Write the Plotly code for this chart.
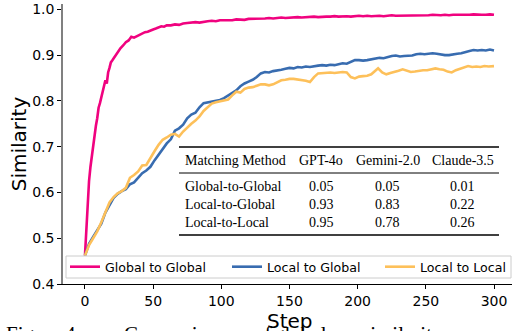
import plotly.graph_objects as go

# ---------------- data ----------------
global_steps = list(range(0, 21)) + list(range(22, 61, 2)) + list(range(63, 301, 3))
global_vals = [
    0.462, 0.520, 0.575, 0.625, 0.655, 0.680, 0.700, 0.722, 0.745, 0.762,
    0.785, 0.795, 0.808, 0.822, 0.832, 0.845, 0.838, 0.862, 0.872, 0.884, 0.888,
    # 22..60 step 2
    0.898, 0.907, 0.915, 0.921, 0.928, 0.932, 0.940, 0.938, 0.941, 0.945,
    0.947, 0.950, 0.951, 0.954, 0.956, 0.958, 0.960, 0.963, 0.962, 0.965,
    # 63..300 step 3
    0.965, 0.967, 0.966, 0.969, 0.970, 0.971, 0.972, 0.971, 0.973, 0.974,
    0.975, 0.974, 0.976, 0.976, 0.977, 0.976, 0.978, 0.978, 0.977, 0.979,
    0.979, 0.980, 0.979, 0.980, 0.981, 0.980, 0.981, 0.982, 0.981, 0.982,
    0.982, 0.983, 0.982, 0.983, 0.983, 0.984, 0.983, 0.984, 0.984, 0.984,
    0.985, 0.984, 0.985, 0.985, 0.984, 0.985, 0.986, 0.985, 0.986, 0.985,
    0.986, 0.986, 0.985, 0.986, 0.987, 0.986, 0.986, 0.987, 0.986, 0.987,
    0.987, 0.986, 0.987, 0.987, 0.988, 0.987, 0.987, 0.988, 0.987, 0.988,
    0.988, 0.987, 0.988, 0.988, 0.989, 0.988, 0.988, 0.988, 0.989, 0.988,
]

l2g_steps = list(range(0, 301, 3))
l2g_vals = [
    0.462, 0.488, 0.503, 0.518, 0.532, 0.556, 0.572, 0.588, 0.597, 0.603,
    0.607, 0.618, 0.622, 0.633, 0.642, 0.648, 0.656, 0.670, 0.682, 0.695,
    0.707, 0.716, 0.735, 0.740, 0.748, 0.762, 0.770, 0.774, 0.786, 0.795,
    0.797, 0.799, 0.800, 0.802, 0.806, 0.812, 0.817, 0.823, 0.832, 0.838,
    0.842, 0.846, 0.852, 0.860, 0.863, 0.862, 0.865, 0.866, 0.868, 0.870,
    0.872, 0.871, 0.874, 0.873, 0.875, 0.874, 0.876, 0.877, 0.878, 0.877,
    0.879, 0.878, 0.880, 0.882, 0.881, 0.885, 0.889, 0.889, 0.888, 0.889,
    0.891, 0.893, 0.894, 0.893, 0.896, 0.898, 0.899, 0.897, 0.898, 0.899,
    0.899, 0.902, 0.903, 0.902, 0.903, 0.904, 0.903, 0.901, 0.900, 0.900,
    0.902, 0.903, 0.904, 0.907, 0.909, 0.911, 0.910, 0.911, 0.910, 0.912,
    0.910,
]

l2l_steps = (list(range(0, 214, 3)) + [215] + list(range(218, 298, 3)) + [300])
l2l_vals = [
    0.462, 0.485, 0.500, 0.515, 0.535, 0.558, 0.578, 0.590, 0.598, 0.603,
    0.610, 0.632, 0.638, 0.646, 0.659, 0.660, 0.676, 0.690, 0.704, 0.715,
    0.720, 0.726, 0.728, 0.722, 0.733, 0.742, 0.750, 0.757, 0.766, 0.778,
    0.786, 0.794, 0.797, 0.799, 0.800, 0.803, 0.812, 0.820, 0.818, 0.826,
    0.829, 0.830, 0.833, 0.836, 0.836, 0.834, 0.836, 0.840, 0.845, 0.846,
    0.848, 0.848, 0.847, 0.845, 0.844, 0.841, 0.852, 0.860, 0.861, 0.862,
    0.862, 0.861, 0.862, 0.863, 0.862, 0.852, 0.849, 0.853, 0.854, 0.855,
    0.858, 0.866,
    0.871,
    0.862, 0.858, 0.861, 0.863, 0.866, 0.869, 0.866, 0.863, 0.864, 0.866,
    0.867, 0.867, 0.869, 0.871, 0.869, 0.868, 0.864, 0.862, 0.867, 0.870,
    0.872, 0.876, 0.874, 0.875, 0.874, 0.876, 0.875,
    0.876,
]

series_names = ["Global to Global", "Local to Global", "Local to Local"]

x_ticks = [0, 50, 100, 150, 200, 250, 300]
y_ticks = [0.4, 0.5, 0.6, 0.7, 0.8, 0.9, 1.0]
x_title, y_title = "Step", "Similarity"

table_header = ["Matching Method", "GPT-4o", "Gemini-2.0", "Claude-3.5"]
table_methods = ["Global-to-Global", "Local-to-Global", "Local-to-Local"]
table_gpt4o = ["0.05", "0.93", "0.95"]
table_gemini = ["0.05", "0.83", "0.78"]
table_claude = ["0.01", "0.22", "0.26"]

caption_words = ["Figure", "4:", "Comparison", "of", "global", "similarity"]

# ---------------- layout constants ----------------
W, H = 512, 331
ML, MR, MT, MB = 63, 0, 4, 47
PW, PH = W - ML - MR, H - MT - MB


def px(x):
    return (x - ML) / PW


def py(y):
    return (H - MB - y) / PH


PINK, BLUE, ORANGE = "#f0027f", "#386cb0", "#fdc05a"
SANS = "DejaVu Sans"
SERIF = "Liberation Serif"

fig = go.Figure()
fig.add_trace(go.Scatter(x=global_steps, y=global_vals, mode="lines", legend="legend",
                         name=series_names[0], line=dict(color=PINK, width=2.6)))
fig.add_trace(go.Scatter(x=l2g_steps, y=l2g_vals, mode="lines", legend="legend2",
                         name=series_names[1], line=dict(color=BLUE, width=2.6)))
fig.add_trace(go.Scatter(x=l2l_steps, y=l2l_vals, mode="lines", legend="legend3",
                         name=series_names[2], line=dict(color=ORANGE, width=2.6)))

shapes = []
annotations = []

# legend frame
shapes.append(dict(type="rect", xref="paper", yref="paper", layer="above",
                   x0=px(66), x1=px(511), y0=py(278), y1=py(256),
                   fillcolor="white", line=dict(color="#cccccc", width=1)))

# table rules
for yy, lw in [(147, 1.6), (173, 1.0), (235, 1.6)]:
    shapes.append(dict(type="line", xref="paper", yref="paper",
                       x0=px(179), x1=px(499), y0=py(yy), y1=py(yy),
                       line=dict(color="black", width=lw)))

col_x = [321, 387.5, 462.5]
annotations.append(dict(text=table_header[0], x=px(183), y=py(160), xref="paper", yref="paper",
                        xanchor="left", yanchor="middle", showarrow=False,
                        font=dict(family=SERIF, size=14, color="black")))
for cx, htxt in zip(col_x, table_header[1:]):
    annotations.append(dict(text=htxt, x=px(cx), y=py(160), xref="paper", yref="paper",
                            xanchor="center", yanchor="middle", showarrow=False,
                            font=dict(family=SERIF, size=14, color="black")))
row_y = [186, 204, 222]
for i, ry in enumerate(row_y):
    annotations.append(dict(text=table_methods[i], x=px(183), y=py(ry), xref="paper", yref="paper",
                            xanchor="left", yanchor="middle", showarrow=False,
                            font=dict(family=SERIF, size=14, color="black")))
    for cx, col in zip(col_x, [table_gpt4o, table_gemini, table_claude]):
        annotations.append(dict(text=col[i], x=px(cx), y=py(ry), xref="paper", yref="paper",
                                xanchor="center", yanchor="middle", showarrow=False,
                                font=dict(family=SERIF, size=14, color="black")))

# x axis title
annotations.append(dict(text=x_title, x=px(290), y=py(321), xref="paper", yref="paper",
                        xanchor="center", yanchor="middle", showarrow=False,
                        font=dict(family=SANS, size=20, color="black")))

# caption (cut off at bottom of image)
cap_x = [4, 63, 122, 252, 272, 360]
for wtxt, cx in zip(caption_words, cap_x):
    annotations.append(dict(text=wtxt, x=px(cx), y=py(320), xref="paper", yref="paper",
                            xanchor="left", yanchor="top", showarrow=False,
                            font=dict(family=SERIF, size=21, color="black")))

leg_common = dict(orientation="h", xanchor="left", yanchor="top", y=py(252),
                  bgcolor="rgba(0,0,0,0)", borderwidth=0,
                  font=dict(family=SANS, size=12.6, color="black"))

fig.update_layout(
    width=W, height=H,
    margin=dict(l=ML, r=MR, t=MT, b=MB, pad=0, autoexpand=False),
    paper_bgcolor="white", plot_bgcolor="white",
    font=dict(family=SANS, color="black"),
    shapes=shapes, annotations=annotations,
    showlegend=True,
    legend=dict(x=px(65), **leg_common),
    legend2=dict(x=px(227), **leg_common),
    legend3=dict(x=px(380), **leg_common),
)
fig.update_xaxes(range=[-16.1, 313.2], tickvals=x_ticks, ticks="outside", ticklen=4,
                 tickcolor="black", showline=True, linecolor="black", linewidth=1.2,
                 showgrid=False, zeroline=False, tickfont=dict(family=SANS, size=14),
                 automargin=False)
fig.update_yaxes(range=[0.4, 1.0116], tickvals=y_ticks, tickformat=".1f", ticks="outside",
                 ticklen=4, tickcolor="black", showline=True, linecolor="#808080", linewidth=1.6,
                 showgrid=False, zeroline=False, tickfont=dict(family=SANS, size=14),
                 automargin=False,
                 title=dict(text=y_title, font=dict(family=SANS, size=20), standoff=0))

fig.write_html("out.html")
